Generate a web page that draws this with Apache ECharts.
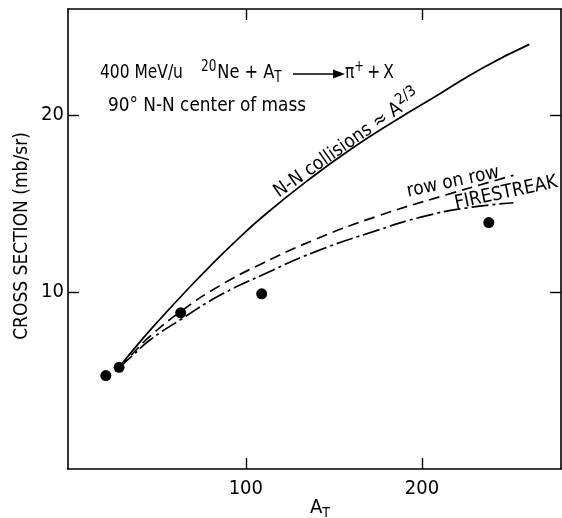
<!DOCTYPE html>
<html><head><meta charset="utf-8">
<script src="https://cdn.jsdelivr.net/npm/echarts@6/dist/echarts.min.js"></script>
<style>html,body{margin:0;padding:0;background:#fff}#c{width:562px;height:518px}</style>
</head><body><div id="c"></div>
<script>
// ---- data ----
const xTickValues = [100, 200];
const yTickValues = [10, 20];
// measured points (A_T, cross section)
const dataA     = [20.5, 28, 63, 109, 238];
const dataSigma = [5.28, 5.75, 8.83, 9.9, 13.93];
// N-N collisions ~ A^(2/3) (solid)
const nnA     = [28, 40, 52, 65, 80, 95, 110, 135, 160, 185, 210, 235, 261];
const nnSigma = [5.75, 7.2, 8.55, 9.95, 11.5, 12.95, 14.3, 16.3, 18.1, 19.7, 21.2, 22.7, 24.0];
// row on row (dashed)
const rowA     = [28, 35, 45, 63, 85, 109, 140, 175, 214, 238, 252];
const rowSigma = [5.75, 6.45, 7.45, 8.9, 10.35, 11.6, 13.0, 14.3, 15.5, 16.2, 16.6];
// FIRESTREAK (dash-dot)
const fsA     = [28, 35, 45, 63, 85, 109, 140, 175, 200, 225, 252];
const fsSigma = [5.75, 6.35, 7.25, 8.45, 9.8, 10.95, 12.3, 13.5, 14.25, 14.75, 15.05];

const zip = (a, b) => a.map((v, i) => [v, b[i]]);
const FONT = "'DejaVu Sans Condensed','Liberation Sans',sans-serif";
const black = '#000';

const chart = echarts.init(document.getElementById('c'), null, {renderer: 'canvas'});
const axisLineStyle = {onZero: false, lineStyle: {color: black, width: 1.6}};
const tickStyle = {inside: true, length: 11, lineStyle: {color: black, width: 1.4}};

const option = {
  backgroundColor: '#fff',
  animation: false,
  grid: {left: 68, right: 1, top: 9, bottom: 49, containLabel: false},
  xAxis: [
    {type: 'value', position: 'bottom', min: -1, max: 279,
     axisLine: axisLineStyle,
     axisTick: Object.assign({customValues: xTickValues}, tickStyle),
     axisLabel: {customValues: xTickValues, color: black, fontSize: 20, fontFamily: FONT, margin: 10},
     splitLine: {show: false}},
    {type: 'value', position: 'top', min: -1, max: 279,
     axisLine: axisLineStyle,
     axisTick: Object.assign({customValues: xTickValues}, tickStyle),
     axisLabel: {show: false}, splitLine: {show: false}}
  ],
  yAxis: [
    {type: 'value', position: 'left', min: 0, max: 26,
     axisLine: axisLineStyle,
     axisTick: Object.assign({customValues: yTickValues}, tickStyle),
     axisLabel: {customValues: yTickValues, color: black, fontSize: 20, fontFamily: FONT, margin: 4},
     splitLine: {show: false}},
    {type: 'value', position: 'right', min: 0, max: 26,
     axisLine: axisLineStyle,
     axisTick: Object.assign({customValues: yTickValues}, tickStyle),
     axisLabel: {show: false}, splitLine: {show: false}}
  ],
  series: [
    {type: 'line', data: zip(nnA, nnSigma), smooth: true, showSymbol: false,
     lineStyle: {color: black, width: 1.7}},
    {type: 'line', data: zip(rowA, rowSigma), smooth: true, showSymbol: false,
     lineStyle: {color: black, width: 1.7, type: [11, 6]}},
    {type: 'line', data: zip(fsA, fsSigma), smooth: true, showSymbol: false,
     lineStyle: {color: black, width: 1.7, type: [17, 4, 3, 4]}},
    {type: 'scatter', data: zip(dataA, dataSigma), symbol: 'circle', symbolSize: 11,
     itemStyle: {color: black, opacity: 1}}
  ],
  graphic: [
    {type: 'text', x: 100, y: 73, scaleX: 0.86, style: {text: '400 MeV/u', font: '20px ' + FONT, fill: black, verticalAlign: 'middle'}},
    {type: 'text', x: 201, y: 73, scaleX: 0.9, style: {
      text: '{sup|20}Ne + A{sub|T}', fill: black, verticalAlign: 'middle',
      font: '20px ' + FONT,
      rich: {sup: {fontSize: 15, fontFamily: FONT, padding: [0,1,12,0]},
             sub: {fontSize: 15, fontFamily: FONT, padding: [10,0,0,0]}}}},
    {type: 'line', shape: {x1: 293, y1: 74, x2: 335, y2: 74}, style: {stroke: black, lineWidth: 1.6}},
    {type: 'polygon', shape: {points: [[333, 69.5], [345, 74], [333, 78.5]]}, style: {fill: black}},
    {type: 'text', x: 345, y: 73, scaleX: 0.86, style: {
      text: 'π{sup|+}\u2009+\u2009X', fill: black, verticalAlign: 'middle', font: '20px ' + FONT,
      rich: {sup: {fontSize: 15, fontFamily: FONT, padding: [0,0,12,0]}}}},
    {type: 'text', x: 108, y: 106, scaleX: 0.94, style: {text: '90° N-N center of mass', font: '20px ' + FONT, fill: black, verticalAlign: 'middle'}},
    {type: 'text', x: 347, y: 144, rotation: 35 * Math.PI / 180, style: {
      text: 'N-N collisions ≈ A{sup|2/3}', fill: black, align: 'center', verticalAlign: 'middle',
      font: '19px ' + FONT,
      rich: {sup: {fontSize: 15, fontFamily: FONT, padding: [0,0,12,0]}}}},
    {type: 'text', x: 453, y: 182, rotation: 12 * Math.PI / 180, style: {
      text: 'row on row', fill: black, align: 'center', verticalAlign: 'middle', font: '19px ' + FONT}},
    {type: 'text', x: 506, y: 193, rotation: 12 * Math.PI / 180, style: {
      text: 'FIRESTREAK', fill: black, align: 'center', verticalAlign: 'middle', font: '19px ' + FONT}},
    {type: 'text', x: 22, y: 236, rotation: Math.PI / 2, style: {
      text: 'CROSS SECTION (mb/sr)', fill: black, align: 'center', verticalAlign: 'middle', font: '19px ' + FONT}},
    {type: 'text', x: 310, y: 508, style: {
      text: 'A{sub|T}', fill: black, verticalAlign: 'middle', font: '20px ' + FONT,
      rich: {sub: {fontSize: 14, fontFamily: FONT, padding: [10,0,0,0]}}}}
  ]
};
chart.setOption(option);
</script>
</body></html>
